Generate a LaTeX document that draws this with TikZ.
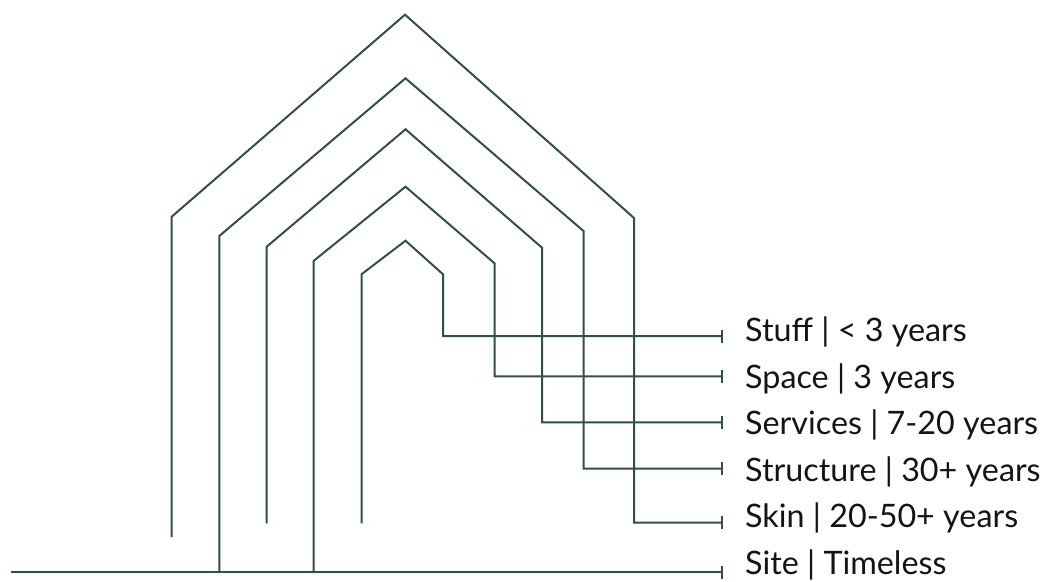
\documentclass[tikz,border=0pt]{standalone}
\usepackage{fontspec}
\setmainfont{Lato}
\usetikzlibrary{arrows.meta}
\definecolor{lncol}{HTML}{2F4F4A}
\definecolor{txtcol}{HTML}{141414}
\begin{document}
\begin{tikzpicture}[x=1pt,y=-1pt,
  layer/.style={draw=lncol, line width=2pt, -{Bar[width=13pt,line width=1.6pt]}},
  lbl/.style={anchor=base west, inner sep=0pt, text=txtcol, font=\fontsize{32.3}{35}\selectfont}]
\useasboundingbox (0,0) rectangle (1054,581);
% label end points
\coordinate (eStuff) at (722.7,336);
\coordinate (eSpace) at (722.7,376.3);
\coordinate (eServ) at (722.7,422.3);
\coordinate (eStruct) at (722.7,468.7);
\coordinate (eSkin) at (722.7,522.7);
\coordinate (eSite) at (722.7,572);
\coordinate (gStart) at (10.7,572);
% labels
\node[lbl] (tStuff) at (745,341.7) {Stuff | < 3 years};
\node[lbl] (tSpace) at (745,388) {Space | 3 years};
\node[lbl] (tServ) at (745,434.5) {Services | 7-20 years};
\node[lbl] (tStruct) at (745,481) {Structure | 30+ years};
\node[lbl] (tSkin) at (745,527.5) {Skin | 20-50+ years};
\node[lbl] (tSite) at (745,574.5) {Site | Timeless};
% houses
\draw[layer] (171.7,537) -- (171.7,216.7) -- (405,14.7) -- (634,218) -- (634,522.7) -- (eSkin);
\draw[layer] (219.3,572) -- (219.3,236) -- (405.5,78.3) -- (583.5,231) -- (583.5,468.7) -- (eStruct);
\draw[layer] (266.7,523.3) -- (266.7,246.7) -- (405.5,129.3) -- (542,247.7) -- (542,422.3) -- (eServ);
\draw[layer] (313.5,572) -- (313.5,261) -- (405.5,186.7) -- (494.5,263.3) -- (494.5,376.3) -- (eSpace);
\draw[layer] (361.5,523.3) -- (361.5,274.3) -- (405.5,240.7) -- (443,274.3) -- (443,336) -- (eStuff);
% ground
\draw[layer] (gStart) -- (eSite);
\end{tikzpicture}
\end{document}
